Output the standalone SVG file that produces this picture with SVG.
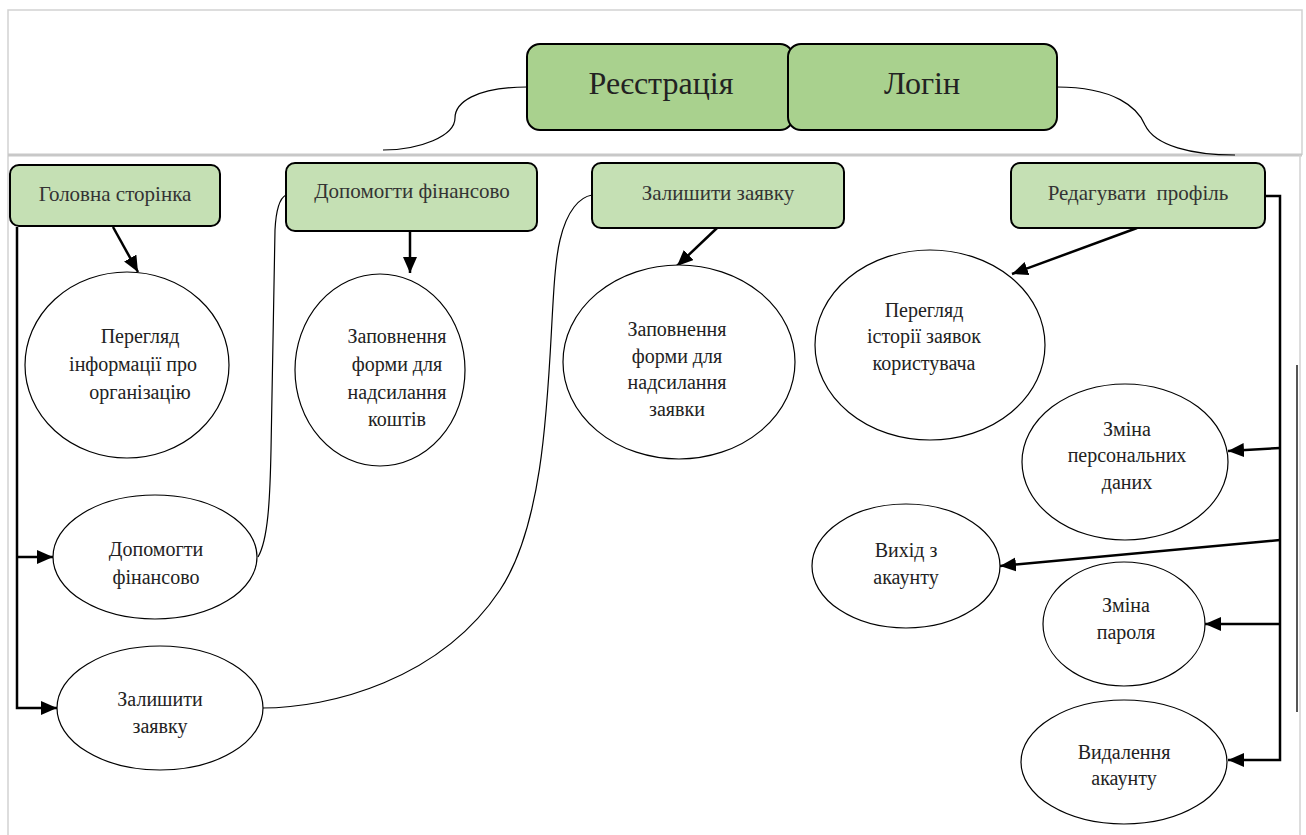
<svg xmlns="http://www.w3.org/2000/svg" width="1306" height="835" viewBox="0 0 1306 835">
  <style>
    .frame { fill: none; stroke: #d2d2d2; stroke-width: 1.5; }
    .top { fill: #a9d18e; stroke: #000; stroke-width: 2; }
    .sub { fill: #c5e0b4; stroke: #000; stroke-width: 2; }
    .oval { fill: #fff; stroke: #000; stroke-width: 1.2; }
    .t { font-family: "Liberation Serif", "Times New Roman", serif; fill: #222; text-anchor: middle; }
    .big { font-size: 32px; }
    .mid { font-size: 21px; fill: #333; }
    .sm { font-size: 20px; }
    .arrow { fill: none; stroke: #000; stroke-width: 2.5; }
    .thin { fill: none; stroke: #000; stroke-width: 1.2; }
  </style>
  <defs>
    <marker id="head" markerUnits="userSpaceOnUse" markerWidth="18" markerHeight="16" refX="16" refY="7" orient="auto">
      <path d="M0,0 L16,7 L0,14 z" fill="#000"/>
    </marker>
  </defs>

  <rect width="1306" height="835" fill="#fff"/>

  <!-- page frame -->
  <g id="frame">
    <path class="frame" d="M8,835 V10 H1302 V155"/>
    <path d="M8,155 H1302" stroke="#c8c8c8" stroke-width="3"/>
    <path class="frame" d="M1300,155 V835"/>
    <path d="M1297,365 V712" stroke="#555" stroke-width="2"/>
  </g>

  <!-- connectors -->
  <g id="connectors">
    <path class="thin" d="M527,87 C475,87 455,103 455,118 C455,136 420,150 383,150"/>
    <path class="thin" d="M1057,87 C1115,87 1138,108 1145,125 C1155,146 1192,155 1235,155"/>
    <path class="arrow" d="M113,227 L138,272" marker-end="url(#head)"/>
    <path class="arrow" d="M410,230 L410,273" marker-end="url(#head)"/>
    <path class="arrow" d="M717,228 L677,266" marker-end="url(#head)"/>
    <path class="arrow" d="M1137,228 L1012,274" marker-end="url(#head)"/>
    <path class="arrow" d="M17,227 V708 H57" marker-end="url(#head)"/>
    <path class="arrow" d="M17,557 H53" marker-end="url(#head)"/>
    <path class="arrow" d="M1265,196 H1280 V760 H1228" marker-end="url(#head)"/>
    <path class="arrow" d="M1280,448 L1228,451" marker-end="url(#head)"/>
    <path class="arrow" d="M1280,540 L1000,566" marker-end="url(#head)"/>
    <path class="arrow" d="M1280,624 H1205" marker-end="url(#head)"/>
    <path class="thin" d="M258,557 C268,540 270,500 271,450 L275,230 C276,210 280,198 286,195"/>
    <path class="thin" d="M262,708 C330,708 440,680 500,590 C560,500 545,300 560,240 C567,210 580,197 592,195"/>
  </g>

  <g id="registration">
    <rect class="top" x="527" y="44" width="266" height="86" rx="13"/>
    <text class="t big" x="661" y="94">Реєстрація</text>
  </g>
  <g id="login">
    <rect class="top" x="788" y="44" width="269" height="86" rx="13"/>
    <text class="t big" x="922" y="94">Логін</text>
  </g>

  <g id="home">
    <rect class="sub" x="10" y="165" width="210" height="61" rx="9"/>
    <text class="t mid" x="115" y="201">Головна сторінка</text>
  </g>
  <g id="donate">
    <rect class="sub" x="286" y="163" width="251" height="68" rx="9"/>
    <text class="t mid" x="412" y="198">Допомогти фінансово</text>
  </g>
  <g id="request">
    <rect class="sub" x="592" y="163" width="252" height="65" rx="9"/>
    <text class="t mid" x="718" y="200">Залишити заявку</text>
  </g>
  <g id="profile">
    <rect class="sub" x="1011" y="163" width="254" height="65" rx="9"/>
    <text class="t mid" x="1138" y="200" xml:space="preserve">Редагувати  профіль</text>
  </g>

  <g id="org-info">
    <ellipse class="oval" cx="127" cy="365" rx="102" ry="93"/>
    <text class="t sm" x="140" y="343">Перегляд</text>
    <text class="t sm" x="133" y="371">інформації про</text>
    <text class="t sm" x="140" y="399">організацію</text>
  </g>
  <g id="donate-form">
    <ellipse class="oval" cx="380" cy="370" rx="85" ry="96"/>
    <text class="t sm" x="397" y="343">Заповнення</text>
    <text class="t sm" x="397" y="371">форми для</text>
    <text class="t sm" x="397" y="399">надсилання</text>
    <text class="t sm" x="397" y="426">коштів</text>
  </g>
  <g id="request-form">
    <ellipse class="oval" cx="679" cy="362" rx="116" ry="97"/>
    <text class="t sm" x="677" y="336">Заповнення</text>
    <text class="t sm" x="677" y="363">форми для</text>
    <text class="t sm" x="677" y="389">надсилання</text>
    <text class="t sm" x="677" y="416">заявки</text>
  </g>
  <g id="history">
    <ellipse class="oval" cx="930" cy="345" rx="115" ry="95"/>
    <text class="t sm" x="924" y="317">Перегляд</text>
    <text class="t sm" x="924" y="343">історії заявок</text>
    <text class="t sm" x="924" y="370">користувача</text>
  </g>
  <g id="personal-data">
    <ellipse class="oval" cx="1125" cy="462" rx="103" ry="78"/>
    <text class="t sm" x="1127" y="436">Зміна</text>
    <text class="t sm" x="1127" y="462">персональних</text>
    <text class="t sm" x="1127" y="489">даних</text>
  </g>
  <g id="logout">
    <ellipse class="oval" cx="906" cy="566" rx="94" ry="62"/>
    <text class="t sm" x="906" y="557">Вихід з</text>
    <text class="t sm" x="906" y="584">акаунту</text>
  </g>
  <g id="password">
    <ellipse class="oval" cx="1124" cy="624" rx="81" ry="62"/>
    <text class="t sm" x="1126" y="612">Зміна</text>
    <text class="t sm" x="1126" y="639">пароля</text>
  </g>
  <g id="delete-account">
    <ellipse class="oval" cx="1124" cy="762" rx="103" ry="62"/>
    <text class="t sm" x="1124" y="759">Видалення</text>
    <text class="t sm" x="1124" y="785">акаунту</text>
  </g>
  <g id="donate-item">
    <ellipse class="oval" cx="155" cy="557" rx="102" ry="62"/>
    <text class="t sm" x="156" y="556">Допомогти</text>
    <text class="t sm" x="156" y="584">фінансово</text>
  </g>
  <g id="request-item">
    <ellipse class="oval" cx="160" cy="708" rx="103" ry="62"/>
    <text class="t sm" x="160" y="706">Залишити</text>
    <text class="t sm" x="160" y="733">заявку</text>
  </g>
</svg>
